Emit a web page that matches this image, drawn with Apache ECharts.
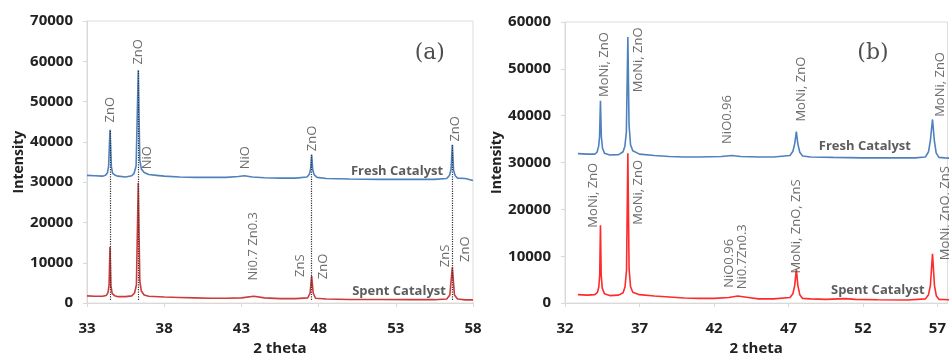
<!DOCTYPE html>
<html>
<head>
<meta charset="utf-8">
<script src="https://cdn.jsdelivr.net/npm/echarts@6/dist/echarts.min.js"></script>
<style>
html,body{margin:0;padding:0;background:#fff;}
#c{width:949px;height:361px;}
</style>
</head>
<body>
<div id="c"></div>
<script>
// ---------- Panel (a) data: [2 theta, intensity] ----------
var aFresh = [[33.0,31700],[33.5,31600],[34.0,31500],[34.2,31700],[34.32,32300],[34.4,34000],[34.49,43000],[34.58,33800],[34.66,32200],[34.8,31800],[35.0,31500],[35.5,31300],[35.9,31600],[36.05,32200],[36.18,34000],[36.32,57800],[36.42,35500],[36.52,33300],[36.7,32400],[37.0,31900],[37.5,31700],[38.0,31500],[39.0,31300],[40.0,31200],[41.0,31200],[42.0,31200],[42.8,31400],[43.2,31600],[43.7,31300],[44.5,31100],[45.5,31000],[46.5,31000],[47.25,31300],[47.4,32000],[47.48,33200],[47.55,36800],[47.62,33000],[47.72,31800],[47.9,31200],[48.5,30900],[50.0,30800],[52.0,30700],[54.0,30700],[55.5,30700],[56.3,30900],[56.48,31700],[56.58,33200],[56.66,39300],[56.74,33000],[56.85,31600],[57.0,31000],[57.5,30900],[58.0,30400]];
var aSpent = [[33.0,1800],[33.5,1700],[34.0,1700],[34.25,1900],[34.36,2600],[34.43,4500],[34.49,14000],[34.55,4300],[34.63,2400],[34.8,1800],[35.0,1600],[35.5,1600],[35.9,1800],[36.08,2500],[36.2,4500],[36.32,29800],[36.42,5500],[36.52,3000],[36.7,2000],[37.0,1700],[38.0,1500],[39.0,1400],[40.0,1300],[41.0,1200],[42.0,1200],[43.0,1300],[43.8,1700],[44.5,1300],[45.5,1100],[46.5,1100],[47.3,1300],[47.45,2500],[47.55,6700],[47.65,2500],[47.8,1200],[48.5,1000],[50.0,900],[52.0,900],[54.0,850],[55.5,850],[56.3,1000],[56.5,2000],[56.66,8900],[56.8,2000],[57.0,1000],[57.5,800],[58.0,800]];
var aDropTheta = [34.49, 36.32, 47.55, 56.66];
var aDropTop = [43000, 57800, 36800, 39300];
var aDropBottom = 800;
var aLabels = [['ZnO',34.49,48000],['ZnO',36.30,62350],['NiO',36.89,36070],['NiO',43.23,36070],['ZnO',47.57,40850],['ZnO',56.83,43240],['Ni0.7 Zn0.3',43.75,14100],['ZnS',46.80,9300],['ZnO',48.28,9080],['ZnS',56.19,11700],['ZnO',57.48,13380]];
var aTitles = [['Fresh Catalyst',53.08,32730],['Spent Catalyst',53.21,2870]];
var aPanel = ['(a)',55.2,61880];

// ---------- Panel (b) data ----------
var bFresh = [[32.87,31900],[33.5,31800],[34.0,31800],[34.15,32200],[34.26,33500],[34.32,35500],[34.38,43200],[34.44,35500],[34.52,33000],[34.65,32000],[35.0,31600],[35.6,31700],[35.9,32300],[36.02,33500],[36.12,36500],[36.22,56800],[36.3,38000],[36.4,33800],[36.55,32500],[37.0,31800],[38.0,31500],[39.0,31300],[40.0,31200],[41.0,31200],[42.5,31300],[43.2,31500],[43.8,31300],[45.0,31200],[46.0,31200],[47.1,31500],[47.3,32400],[47.42,34000],[47.53,36600],[47.63,34000],[47.76,32200],[47.95,31400],[48.5,31200],[50.0,31100],[52.0,31000],[54.0,31000],[55.5,31000],[56.2,31200],[56.4,32300],[56.52,34500],[56.67,39200],[56.8,34500],[56.92,32000],[57.1,31100],[57.5,31000],[58.0,30900]];
var bSpent = [[32.87,1800],[33.5,1700],[34.0,1800],[34.18,2300],[34.27,3500],[34.33,6000],[34.38,16600],[34.43,6000],[34.5,3200],[34.65,2000],[35.0,1600],[35.6,1700],[35.9,2200],[36.03,3500],[36.13,7000],[36.22,32000],[36.3,7500],[36.4,3500],[36.55,2300],[37.0,1800],[38.0,1500],[39.0,1300],[40.0,1100],[41.0,1000],[42.0,1000],[43.0,1200],[43.6,1500],[44.3,1200],[45.0,900],[46.0,900],[47.1,1200],[47.3,2000],[47.42,3800],[47.53,7200],[47.63,3800],[47.76,1800],[47.95,1000],[48.5,900],[49.5,800],[50.8,950],[51.5,800],[53.0,700],[55.0,650],[56.2,900],[56.4,1800],[56.53,3800],[56.67,10500],[56.8,3800],[56.93,1500],[57.1,800],[58.0,700]];
var bLabels = [['MoNi, ZnO',34.67,50910],['MoNi, ZnO',36.93,51920],['NiO0.96',42.87,39190],['MoNi, ZnO',47.87,45660],['MoNi, ZnO',57.2,46670],['MoNi, ZnO',33.87,23030],['MoNi, ZnO',36.93,23640],['NiO0.96',43.0,8480],['Ni0.7Zn0.3',43.87,9900],['MoNi, ZnO, ZnS',47.53,16360],['MoNi, ZnO, ZnS',57.53,19190]];
var bTitles = [['Fresh Catalyst',52.13,33540],['Spent Catalyst',53.0,2830]];
var bPanel = ['(b)',52.67,53330];

// ---------- Axes ----------
var aX = {min:33, max:58, interval:5};
var aY = {min:0, max:70000, interval:10000};
var bX = {min:32, max:57.67, interval:5};   // panel (b) is cut off at the right edge of the picture
var bY = {min:0, max:60000, interval:10000};

var FONT = 'Open Sans';
var BLUE = '#4f81bd', REDA = '#cc3b3b', REDB = '#ff2a2a';

function textSeries(list, xi, opts) {
  return {
    type:'scatter', xAxisIndex:xi, yAxisIndex:xi, silent:true, z:5,
    symbolSize:1, itemStyle:{color:'rgba(0,0,0,0)'}, clip:false,
    data: list.map(function(d){ return {value:[d[1], d[2]], name:d[0]}; }),
    label: Object.assign({show:true, position:'inside', align:'center', verticalAlign:'middle',
      formatter: function(p){ return p.name; }}, opts)
  };
}

function xAxis(gi, s) {
  return {type:'value', gridIndex:gi, min:s.min, max:s.max, interval:s.interval,
    name:'2 theta', nameLocation:'middle', nameGap:35,
    nameTextStyle:{fontFamily:FONT, fontWeight:'bold', fontSize:15, color:'#222'},
    axisLine:{show:true, lineStyle:{color:'#d9d9d9'}},
    axisTick:{show:true, length:4, lineStyle:{color:'#d9d9d9'}},
    axisLabel:{fontFamily:FONT, fontWeight:'bold', fontSize:15, color:'#222', margin:18,
      showMaxLabel: s.max % s.interval === (s.min % s.interval) ? true : false,
      formatter:function(v){ return String(v); }},
    splitLine:{show:false}};
}
function yAxis(gi, s, gap) {
  return {type:'value', gridIndex:gi, min:s.min, max:s.max, interval:s.interval,
    name:'Intensity', nameLocation:'middle', nameGap:gap, nameRotate:90,
    nameTextStyle:{fontFamily:FONT, fontWeight:'bold', fontSize:14, color:'#222'},
    axisLine:{show:true, lineStyle:{color:'#d9d9d9'}},
    axisTick:{show:true, length:4, lineStyle:{color:'#d9d9d9'}},
    axisLabel:{fontFamily:FONT, fontWeight:'bold', fontSize:15, color:'#222', margin:14,
      formatter:function(v){ return String(v); }},
    splitLine:{show:false}};
}

var annot = {fontFamily:FONT, fontSize:13, color:'#4a4a4a', rotate:90};
var titleStyle = {fontFamily:FONT, fontSize:13, fontWeight:'bold', color:'#333'};
var panelStyle = {fontFamily:'DejaVu Serif', fontSize:22, color:'#222'};

var option = {
  animation:false,
  backgroundColor:'#fff',
  grid:[
    {left:87, top:21, width:386, height:293, show:true, borderColor:'#dcdcdc', borderWidth:1, containLabel:false},
    {left:565, top:22, width:385, height:297, show:true, borderColor:'#dcdcdc', borderWidth:1, containLabel:false}
  ],
  xAxis:[xAxis(0, aX), xAxis(1, bX)],
  yAxis:[yAxis(0, aY, 60), yAxis(1, bY, 50)],
  series:[
    {type:'line', xAxisIndex:0, yAxisIndex:0, data:aFresh, showSymbol:false, smooth:false,
      lineStyle:{color:BLUE, width:1.6}, z:3},
    {type:'line', xAxisIndex:0, yAxisIndex:0, data:aSpent, showSymbol:false,
      lineStyle:{color:REDA, width:1.6}, z:3,
      markLine:{silent:true, symbol:['none','none'], label:{show:false},
        lineStyle:{color:'#333', type:'dotted', width:1.2},
        data: aDropTheta.map(function(t,i){ return [{coord:[t, aDropBottom]},{coord:[t, aDropTop[i]]}]; })}},
    textSeries(aLabels, 0, annot),
    textSeries(aTitles, 0, titleStyle),
    textSeries([aPanel], 0, panelStyle),
    {type:'line', xAxisIndex:1, yAxisIndex:1, data:bFresh, showSymbol:false,
      lineStyle:{color:BLUE, width:1.6}, z:3},
    {type:'line', xAxisIndex:1, yAxisIndex:1, data:bSpent, showSymbol:false,
      lineStyle:{color:REDB, width:1.6}, z:3},
    textSeries(bLabels, 1, annot),
    textSeries(bTitles, 1, titleStyle),
    textSeries([bPanel], 1, panelStyle)
  ]
};
var chart = echarts.init(document.getElementById('c'), null, {renderer:'canvas'});
chart.setOption(option);
</script>
</body>
</html>
